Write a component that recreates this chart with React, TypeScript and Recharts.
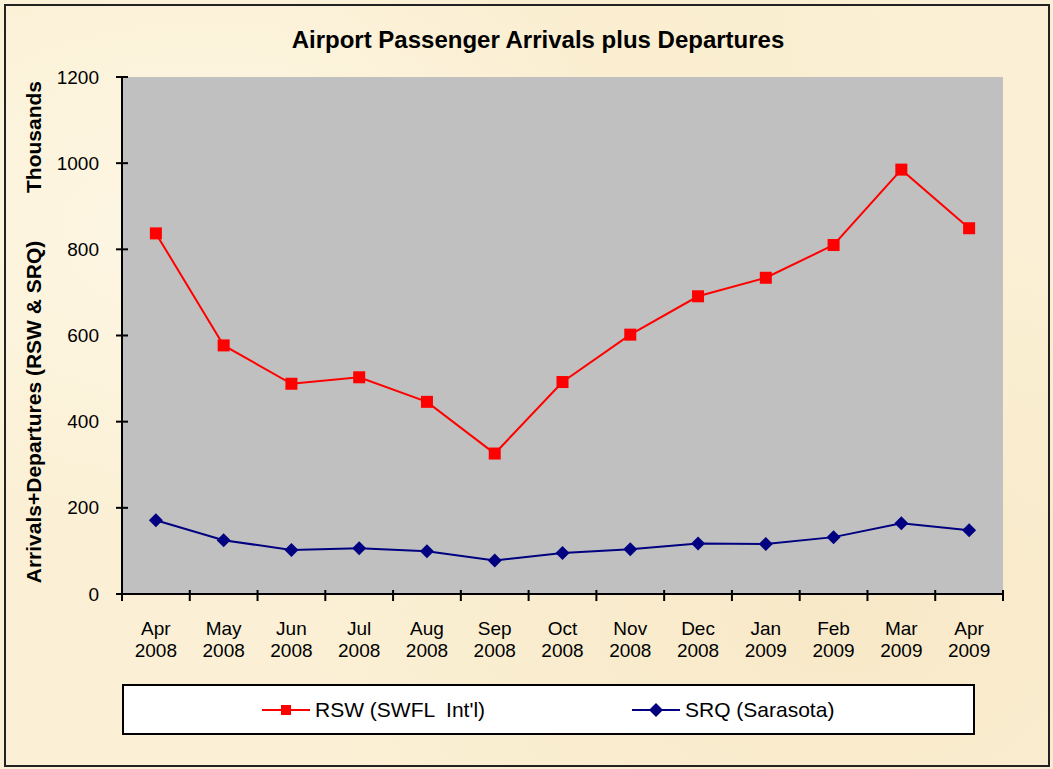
import React from "react";
import { LineChart, Line, XAxis, YAxis, CartesianGrid } from "recharts";

const months = [
  "Apr 2008", "May 2008", "Jun 2008", "Jul 2008", "Aug 2008", "Sep 2008", "Oct 2008",
  "Nov 2008", "Dec 2008", "Jan 2009", "Feb 2009", "Mar 2009", "Apr 2009",
];
const rswValues = [837, 577, 488, 503, 446, 326, 492, 602, 691, 734, 810, 985, 849];
const srqValues = [171, 125, 102, 106, 99, 78, 95, 104, 117, 116, 132, 164, 148];
const yTicks = [0, 200, 400, 600, 800, 1000, 1200];

const W = 1053;
const H = 769;
const FONT = "'Liberation Sans', Arial, sans-serif";
const PLOT_LEFT = 122;
const PLOT_RIGHT = 50;
const HALF_BAND = (W - PLOT_LEFT - PLOT_RIGHT) / months.length / 2;

const data = months.map((m, i) => ({ month: m, rsw: rswValues[i], srq: srqValues[i] }));

const SquareDot = (props: any) => {
  const { cx, cy } = props;
  if (cx == null || cy == null) return null;
  return <rect x={cx - 6} y={cy - 6} width={12} height={12} fill="#FF0000" />;
};

const DiamondDot = (props: any) => {
  const { cx, cy } = props;
  if (cx == null || cy == null) return null;
  return <path d={`M${cx},${cy - 7} L${cx + 7},${cy} L${cx},${cy + 7} L${cx - 7},${cy} Z`} fill="#000080" />;
};

const MonthTick = (props: any) => {
  const { x, y, payload, index } = props;
  const axisY = y - 6;
  const [mon, yr] = String(payload.value).split(" ");
  const last = index === months.length - 1;
  return (
    <g>
      <line x1={x - HALF_BAND} x2={x - HALF_BAND} y1={axisY - 4} y2={axisY + 7} stroke="#000" strokeWidth={2} />
      {last && <line x1={x + HALF_BAND} x2={x + HALF_BAND} y1={axisY - 4} y2={axisY + 7} stroke="#000" strokeWidth={2} />}
      <text x={x} y={axisY + 41} textAnchor="middle" fontSize={19} fontFamily={FONT} fill="#000">{mon}</text>
      <text x={x} y={axisY + 63} textAnchor="middle" fontSize={19} fontFamily={FONT} fill="#000">{yr}</text>
    </g>
  );
};

const ValueTick = (props: any) => {
  const { x, y, payload } = props;
  return (
    <g>
      <line x1={x} x2={x + 12} y1={y} y2={y} stroke="#000" strokeWidth={2} />
      <text x={x - 17} y={y} dy="0.35em" textAnchor="end" fontSize={19} fontFamily={FONT} fill="#000">{payload.value}</text>
    </g>
  );
};

const LegendItem = ({ label, color, kind, left }: { label: string; color: string; kind: "square" | "diamond"; left: number }) => (
  <div style={{ position: "absolute", left, top: 0, height: "100%", display: "flex", alignItems: "center" }}>
    <svg width={48} height={16}>
      <line x1={0} x2={48} y1={8} y2={8} stroke={color} strokeWidth={2} />
      {kind === "square" ? (
        <rect x={19} y={3} width={10} height={10} fill={color} />
      ) : (
        <path d="M24,1 L31,8 L24,15 L17,8 Z" fill={color} />
      )}
    </svg>
    <span style={{ marginLeft: 5, fontSize: 21, fontFamily: FONT, color: "#000", whiteSpace: "pre" }}>{label}</span>
  </div>
);

export default function App() {
  return (
    <div
      style={{
        position: "absolute",
        left: 0,
        top: 0,
        width: W,
        height: H,
        overflow: "hidden",
        background:
          "radial-gradient(ellipse at 20% 30%, rgba(255,250,235,0.7), transparent 40%)," +
          "radial-gradient(ellipse at 80% 80%, rgba(245,228,190,0.6), transparent 45%)," +
          "radial-gradient(ellipse at 60% 10%, rgba(250,236,205,0.6), transparent 40%)," +
          "#FBF0D5",
      }}
    >
      <div
        style={{
          position: "absolute",
          left: 4,
          top: 4,
          width: 1046,
          height: 763,
          border: "2px solid #222",
          boxSizing: "border-box",
        }}
      />
      <div
        style={{
          position: "absolute",
          left: 0,
          width: 1076,
          top: 26,
          textAlign: "center",
          fontFamily: FONT,
          fontWeight: "bold",
          fontSize: 24,
          color: "#000",
          whiteSpace: "pre",
        }}
      >
        Airport Passenger Arrivals plus Departures
      </div>
      <div
        style={{
          position: "absolute",
          left: 34,
          top: 137,
          transform: "translate(-50%, -50%) rotate(-90deg)",
          fontFamily: FONT,
          fontWeight: "bold",
          fontSize: 21,
          color: "#000",
          whiteSpace: "pre",
        }}
      >
        Thousands
      </div>
      <div
        style={{
          position: "absolute",
          left: 34,
          top: 412,
          transform: "translate(-50%, -50%) rotate(-90deg)",
          fontFamily: FONT,
          fontWeight: "bold",
          fontSize: 21,
          color: "#000",
          whiteSpace: "pre",
        }}
      >
        Arrivals+Departures (RSW &amp; SRQ)
      </div>
      <div style={{ position: "absolute", left: 0, top: 0 }}>
        <LineChart width={W} height={H} data={data} margin={{ top: 77, right: PLOT_RIGHT, bottom: 105, left: 0 }}>
          <CartesianGrid fill="#C0C0C0" horizontal={false} vertical={false} />
          <XAxis
            dataKey="month"
            interval={0}
            padding={{ left: HALF_BAND, right: HALF_BAND }}
            height={70}
            tickSize={6}
            tickMargin={0}
            tickLine={false}
            axisLine={{ stroke: "#000", strokeWidth: 2 }}
            tick={<MonthTick />}
          />
          <XAxis xAxisId="top" dataKey="month" orientation="top" height={0} tick={false} tickLine={false} axisLine={{ stroke: "#808080", strokeWidth: 2 }} />
          <YAxis
            domain={[0, 1200]}
            ticks={yTicks}
            width={PLOT_LEFT}
            tickSize={6}
            tickMargin={0}
            tickLine={false}
            axisLine={{ stroke: "#000", strokeWidth: 2 }}
            tick={<ValueTick />}
          />
          <YAxis yAxisId="right" orientation="right" domain={[0, 1200]} width={0} tick={false} tickLine={false} axisLine={{ stroke: "#808080", strokeWidth: 2 }} />
          <Line dataKey="rsw" stroke="#FF0000" strokeWidth={2} dot={<SquareDot />} activeDot={false} isAnimationActive={false} />
          <Line dataKey="srq" stroke="#000080" strokeWidth={2} dot={<DiamondDot />} activeDot={false} isAnimationActive={false} />
        </LineChart>
      </div>
      <div
        style={{
          position: "absolute",
          left: 122,
          top: 684,
          width: 853,
          height: 51,
          boxSizing: "border-box",
          border: "2px solid #000",
          background: "#FFFFFF",
        }}
      >
        <LegendItem label="RSW (SWFL  Int'l)" color="#FF0000" kind="square" left={138} />
        <LegendItem label="SRQ (Sarasota)" color="#000080" kind="diamond" left={508} />
      </div>
    </div>
  );
}
